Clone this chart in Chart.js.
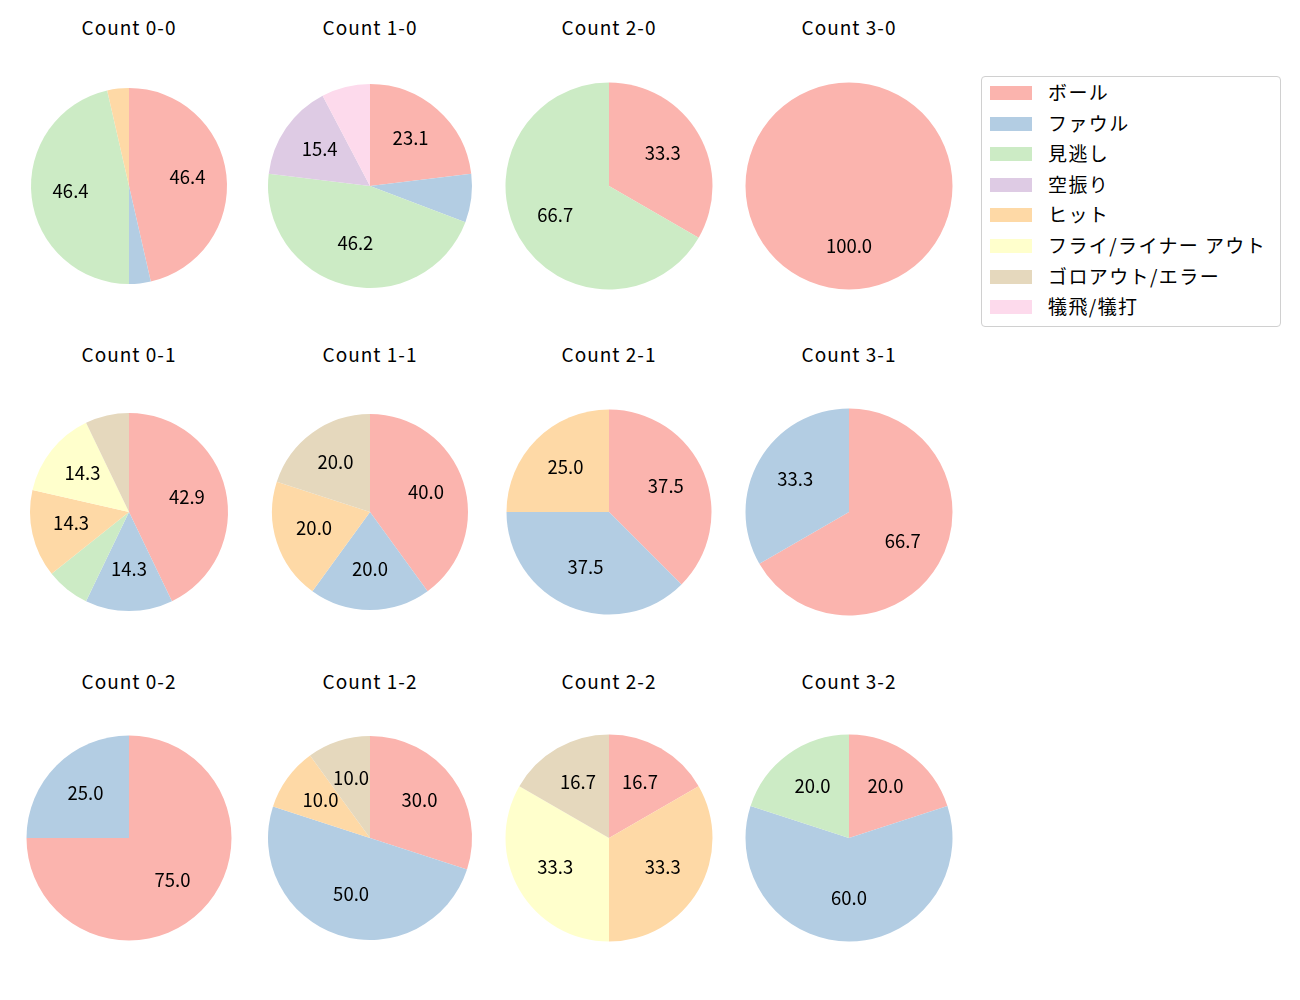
<!DOCTYPE html>
<html>
<head>
<meta charset="utf-8">
<script src="https://cdn.jsdelivr.net/npm/chart.js@4.4.1/dist/chart.umd.min.js"></script>
<style>
  body { margin: 0; background: #fff; }
  #wrap { position: relative; width: 1300px; height: 1000px; font-family: "Noto Sans CJK JP", "Noto Sans", sans-serif; color: #000; }
  .pie { position: absolute; }
  .title { position: absolute; width: 240px; text-align: center; font-size: 19px; line-height: 20px; letter-spacing: 1px; }
  #legend { position: absolute; left: 981px; top: 76px; width: 298px; height: 249px; border: 1px solid #d0d0d0; border-radius: 4px; }
  .row { position: absolute; left: 0; height: 20px; font-size: 19px; line-height: 20px; white-space: nowrap; letter-spacing: 1.4px; }
  .sw { position: absolute; left: 8px; top: 4px; width: 42px; height: 14px; }
  .lab { position: absolute; left: 66px; top: 0; }
</style>
</head>
<body>
<div id="wrap"><div id="legend"></div></div>
<script>
const categories = ['ボール', 'ファウル', '見逃し', '空振り', 'ヒット', 'フライ/ライナー アウト', 'ゴロアウト/エラー', '犠飛/犠打'];
const colors = ['#fbb4ae', '#b3cde3', '#ccebc5', '#decbe4', '#fed9a6', '#ffffcc', '#e5d8bd', '#fddaec'];

const countLabels = ['0-0', '1-0', '2-0', '3-0', '0-1', '1-1', '2-1', '3-1', '0-2', '1-2', '2-2', '3-2'];
const count00 = [13, 1, 13, 0, 1, 0, 0, 0];
const count10 = [3, 1, 6, 2, 0, 0, 0, 1];
const count20 = [1, 0, 2, 0, 0, 0, 0, 0];
const count30 = [1, 0, 0, 0, 0, 0, 0, 0];
const count01 = [6, 2, 1, 0, 2, 2, 1, 0];
const count11 = [2, 1, 0, 0, 1, 0, 1, 0];
const count21 = [3, 3, 0, 0, 2, 0, 0, 0];
const count31 = [2, 1, 0, 0, 0, 0, 0, 0];
const count02 = [3, 1, 0, 0, 0, 0, 0, 0];
const count12 = [3, 5, 0, 0, 1, 0, 1, 0];
const count22 = [1, 0, 0, 0, 2, 2, 1, 0];
const count32 = [1, 3, 1, 0, 0, 0, 0, 0];
const allCounts = [count00, count10, count20, count30, count01, count11, count21, count31, count02, count12, count22, count32];

// pie centres and radii in the 1300x1000 page
const colX = [129, 370, 609, 849];
const rowY = [186, 512, 838];
const titleY = [17, 344, 671];
const radii = [98, 102, 103.5, 103.5, 99, 98, 102.5, 103.5, 102.5, 102, 103.5, 103.5];

const pctLabels = {
    id: 'pctLabels',
    afterDatasetsDraw(chart) {
        const ctx = chart.ctx;
        const data = chart.data.datasets[0].data;
        const total = data.reduce((a, b) => a + b, 0);
        ctx.save();
        ctx.font = '18.5px "Noto Sans CJK JP", sans-serif';
        ctx.fillStyle = '#000';
        ctx.textAlign = 'center';
        ctx.textBaseline = 'middle';
        chart.getDatasetMeta(0).data.forEach((arc, i) => {
            const pct = data[i] / total * 100;
            if (pct < 9.99) return;
            const p = arc.getProps(['x', 'y', 'startAngle', 'endAngle', 'outerRadius'], true);
            const mid = (p.startAngle + p.endAngle) / 2;
            const d = p.outerRadius * 0.6;
            ctx.fillText(pct.toFixed(1), p.x + Math.cos(mid) * d, p.y + Math.sin(mid) * d - 2);
        });
        ctx.restore();
    }
};

const wrap = document.getElementById('wrap');
const size = 230;

allCounts.forEach((vals, k) => {
    const col = k % 4, row = Math.floor(k / 4);
    const title = document.createElement('div');
    title.className = 'title';
    title.style.left = (colX[col] - 120) + 'px';
    title.style.top = titleY[row] + 'px';
    title.textContent = 'Count ' + countLabels[k];
    wrap.appendChild(title);

    const box = document.createElement('div');
    box.className = 'pie';
    box.style.left = (colX[col] - size / 2) + 'px';
    box.style.top = (rowY[row] - size / 2) + 'px';
    box.style.width = size + 'px';
    box.style.height = size + 'px';
    const canvas = document.createElement('canvas');
    box.appendChild(canvas);
    wrap.appendChild(box);

    new Chart(canvas, {
        type: 'pie',
        data: {
            labels: categories,
            datasets: [{
                data: vals,
                backgroundColor: colors,
                borderWidth: 0
            }]
        },
        options: {
            responsive: true,
            maintainAspectRatio: false,
            animation: false,
            radius: radii[k],
            layout: { padding: 0 },
            plugins: {
                legend: { display: false },
                tooltip: { enabled: false }
            }
        },
        plugins: [pctLabels]
    });
});

const legend = document.getElementById('legend');
categories.forEach((name, i) => {
    const row = document.createElement('div');
    row.className = 'row';
    row.style.top = (5 + i * 30.6) + 'px';
    row.innerHTML = '<span class="sw" style="background:' + colors[i] + '"></span><span class="lab"></span>';
    row.querySelector('.lab').textContent = name;
    legend.appendChild(row);
});
</script>
</body>
</html>
